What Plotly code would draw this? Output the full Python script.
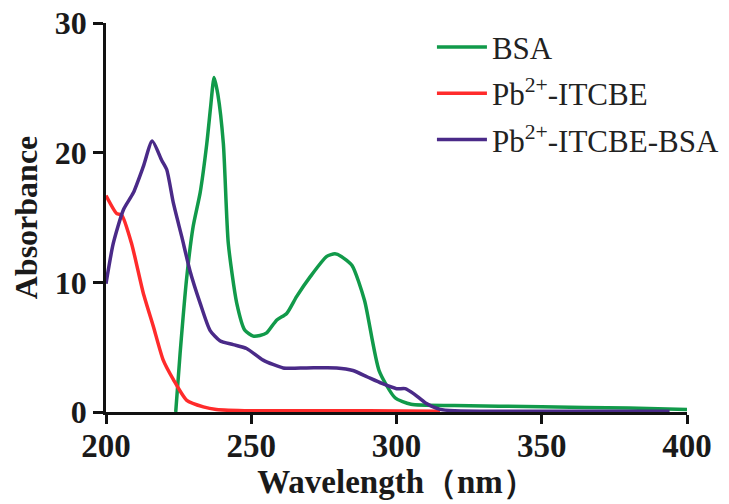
import plotly.graph_objects as go

bsa_x = [224, 225.5, 227.8, 230, 232.4, 234.7, 236, 237.2, 238.5, 240.4, 242.1, 245, 247.8, 250.7, 253, 255.3, 258.8, 262.2, 265.6, 270.2, 276, 278.8, 281, 284.7, 289, 294, 299.5, 305, 320, 350, 380, 400]
bsa_y = [0, 4.5, 10.4, 14.3, 16.9, 20.7, 23.5, 25.8, 24.5, 20.7, 13.0, 8.4, 6.3, 5.85, 5.9, 6.1, 7.1, 7.6, 8.9, 10.4, 12.0, 12.2, 12.0, 11.3, 8.6, 3.2, 1.1, 0.6, 0.5, 0.4, 0.3, 0.2]

itcbe_x = [200, 203.7, 205.4, 208.8, 212.8, 216.3, 219.7, 223.2, 227.8, 233.5, 238, 250, 270, 290, 315]
itcbe_y = [16.7, 15.3, 15.2, 13.0, 9.2, 6.6, 4.0, 2.5, 0.9, 0.4, 0.2, 0.1, 0.1, 0.1, 0.05]

mix_x = [200, 202.5, 206, 209.4, 212.8, 215.9, 219.2, 220.9, 223.2, 226.1, 228.9, 232.4, 235.8, 239.2, 243.8, 248.4, 254.1, 261, 269, 279.4, 285, 290, 295, 300, 303, 306, 310, 315, 320, 350, 394]
mix_y = [9.9, 13.0, 15.6, 16.9, 18.9, 20.9, 19.4, 18.7, 16.1, 13.5, 10.9, 8.4, 6.3, 5.5, 5.2, 4.9, 4.0, 3.4, 3.4, 3.4, 3.2, 2.7, 2.2, 1.8, 1.8, 1.4, 0.7, 0.2, 0.1, 0.05, 0.05]

x_ticks = [200, 250, 300, 350, 400]
y_ticks = [0, 10, 20, 30]

SERIF = "Liberation Serif, Times New Roman, serif"

fig = go.Figure()
fig.add_trace(go.Scatter(x=bsa_x, y=bsa_y, mode="lines", name="BSA",
                         line=dict(color="#119a4a", width=3.5, shape="spline", smoothing=0.6),
                         legendgroup="a"))
fig.add_trace(go.Scatter(x=itcbe_x, y=itcbe_y, mode="lines", name="Pb<sup>2+</sup>-ITCBE",
                         line=dict(color="#ff2b2b", width=3.5, shape="spline", smoothing=0.6),
                         legendgroup="b"))
fig.add_trace(go.Scatter(x=mix_x, y=mix_y, mode="lines", name="Pb<sup>2+</sup>-ITCBE-BSA",
                         line=dict(color="#4a2a88", width=3.5, shape="spline", smoothing=0.6),
                         legendgroup="c"))

fig.update_layout(
    width=729, height=504,
    margin=dict(l=98, r=50, t=15, b=100),
    paper_bgcolor="white", plot_bgcolor="white",
    showlegend=True,
    legend=dict(x=0.561, y=1.007, xanchor="left", yanchor="top", itemwidth=50,
                font=dict(family=SERIF, size=31, color="#222"),
                bgcolor="rgba(0,0,0,0)", traceorder="grouped", tracegroupgap=3),
    xaxis=dict(range=[200, 400], tickvals=x_ticks, ticks="outside", ticklen=9, tickwidth=2.5,
               showline=True, linewidth=2.5, linecolor="#111", tickcolor="#111",
               showgrid=False, zeroline=False, automargin=False, ticklabelstandoff=-6,
               ticklabeloverflow="allow",
               tickfont=dict(family=SERIF, size=33, color="#1a1a1a", weight="bold"),
               title=dict(text="Wavelength（nm）", standoff=6,
                          font=dict(family=SERIF, size=33, color="#1a1a1a", weight="bold"))),
    yaxis=dict(range=[0, 30], tickvals=y_ticks, ticks="outside", ticklen=10, tickwidth=2.5,
               showline=True, linewidth=2.5, linecolor="#111", tickcolor="#111",
               showgrid=False, zeroline=False, automargin=False,
               ticklabeloverflow="allow",
               tickfont=dict(family=SERIF, size=32, color="#1a1a1a", weight="bold"),
               title=dict(text="Absorbance", standoff=10,
                          font=dict(family=SERIF, size=32, color="#1a1a1a", weight="bold"))),
)

fig.write_html("out.html")
